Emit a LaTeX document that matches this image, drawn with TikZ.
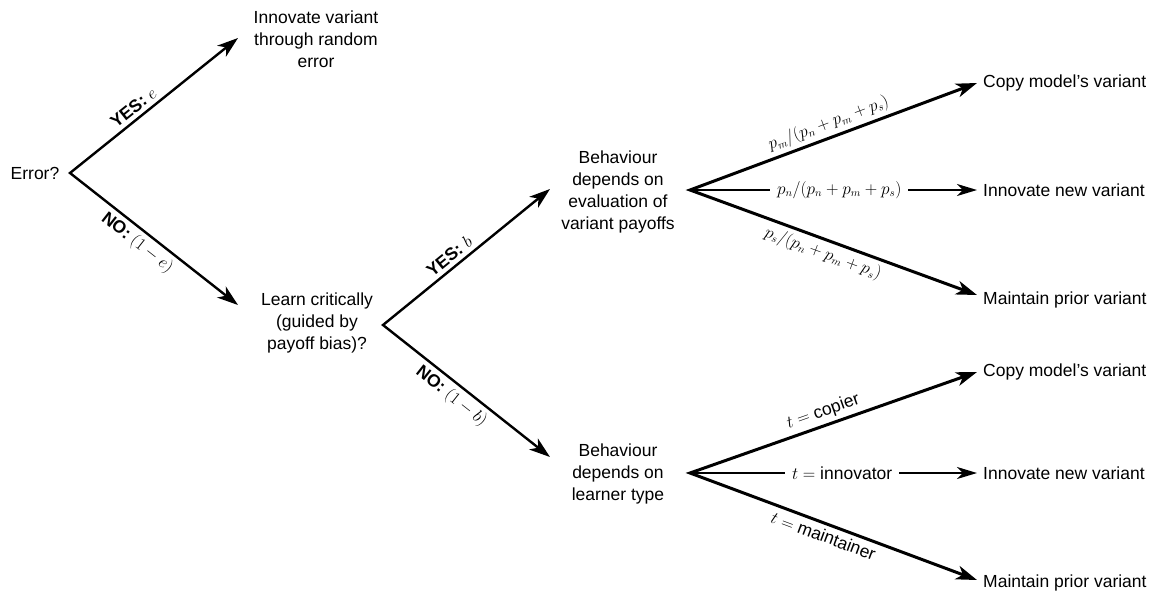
\documentclass[tikz,border=0pt]{standalone}
\usepackage{fontspec}
\setmainfont{Liberation Sans}
\usetikzlibrary{arrows.meta}
\begin{document}
\begin{tikzpicture}[x=1pt,y=-1pt,
  every node/.style={font=\fontsize{17.5}{22}\selectfont, inner sep=0pt},
  txt/.style={align=center},
  outlbl/.style={anchor=west},
  lbl/.style={sloped, inner sep=4pt},
  mlbl/.style={sloped, inner sep=4pt, font=\fontsize{16}{19}\selectfont},
  Hd/.tip={Stealth[length=21pt,width=14pt,inset=6pt]},
  Hm/.tip={Stealth[length=20pt,width=12pt,inset=6pt]},
  brleft/.style={line width=2.4pt, line join=miter, Hd-Hd},
  brright/.style={line width=3pt, line join=miter, Hd-Hd},
  brmid/.style={line width=2pt, -Hm},
  gap/.style={fill=white, inner xsep=7pt, inner ysep=3pt}
]
\useasboundingbox (0,0) rectangle (1165,595);

% text nodes
\node[txt] (err) at (35,173) {Error?};
\node[txt] (inn) at (316,39) {Innovate variant\\through random\\error};
\node[txt] (learn) at (317,323) {Learn critically\\(guided by\\payoff bias)?};
\node[txt] (beh1) at (618,192) {Behaviour\\depends on\\evaluation of\\variant payoffs};
\node[txt] (beh2) at (618,474) {Behaviour\\depends on\\learner type};

\node[outlbl] (c1) at (983,83) {Copy model's variant};
\node[outlbl] (n1) at (983,190) {Innovate new variant};
\node[outlbl] (m1) at (983,300) {Maintain prior variant};
\node[outlbl] (c2) at (983,372) {Copy model's variant};
\node[outlbl] (n2) at (983,473) {Innovate new variant};
\node[outlbl] (m2) at (983,583) {Maintain prior variant};

% vertices and tips
\coordinate (v1) at (70,173);
\coordinate (t1a) at (238,38);
\coordinate (t1b) at (238,305);
\coordinate (v2) at (383,325);
\coordinate (t2a) at (550,189);
\coordinate (t2b) at (550,457);
\coordinate (v3) at (690,190);
\coordinate (t3a) at (977,83);
\coordinate (t3b) at (977,190);
\coordinate (t3c) at (977,295);
\coordinate (v4) at (690,473);
\coordinate (t4a) at (977,372);
\coordinate (t4b) at (977,473);
\coordinate (t4c) at (977,580);

% connectors
\draw[brleft] (t1a) -- node[lbl, above, pos=0.58] {\textbf{YES:} $e$} (v1)
  -- node[lbl, below, pos=0.45] {\textbf{NO:} $(1-e)$} (t1b);
\draw[brleft] (t2a) -- node[lbl, above, pos=0.56] {\textbf{YES:} $b$} (v2)
  -- node[lbl, below, pos=0.46] {\textbf{NO:} $(1-b)$} (t2b);

\draw[brright] (t3a) -- node[mlbl, above, pos=0.5] {$p_m/(p_n+p_m+p_s)$} (v3)
  -- node[mlbl, below, pos=0.48] {$p_s/(p_n+p_m+p_s)$} (t3c);
\draw[brmid] (v3) -- node[gap, font=\fontsize{16}{19}\selectfont, pos=0.52] {$p_n/(p_n+p_m+p_s)$} (t3b);

\draw[brright] (t4a) -- node[lbl, above, pos=0.52] {$t=$ copier} (v4)
  -- node[lbl, below, pos=0.48] {$t=$ maintainer} (t4c);
\draw[brmid] (v4) -- node[gap, pos=0.53] {$t=$ innovator} (t4b);
\end{tikzpicture}
\end{document}
